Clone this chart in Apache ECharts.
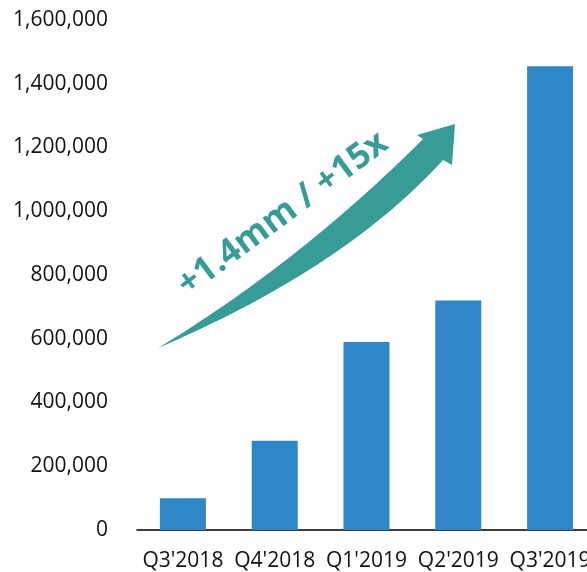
<!DOCTYPE html>
<html><head><meta charset="utf-8">
<script src="https://cdn.jsdelivr.net/npm/echarts@6/dist/echarts.min.js"></script>
<style>html,body{margin:0;padding:0;background:#fff;overflow:hidden}#c{width:600px;height:572px}</style>
</head><body><div id="c"></div>
<script>
const categories = ["Q3'2018", "Q4'2018", "Q1'2019", "Q2'2019", "Q3'2019"];
const values = [100000, 280000, 590000, 720000, 1455000];
const yTicks = [0, 200000, 400000, 600000, 800000, 1000000, 1200000, 1400000, 1600000];
const annotation = "+1.4mm / +15x";

function quad(p0, c, p1, n) {
  const pts = [];
  for (let i = 0; i <= n; i++) {
    const t = i / n, u = 1 - t;
    pts.push([u*u*p0[0] + 2*u*t*c[0] + t*t*p1[0], u*u*p0[1] + 2*u*t*c[1] + t*t*p1[1]]);
  }
  return pts;
}
const tail = [158, 348];
const upper = quad(tail, [300, 262], [423, 139], 40);
const lower = quad([443, 160], [345, 268], tail, 40);
const arrowPts = upper.concat([[417, 135], [455, 124], [452, 165]], lower);

const chart = echarts.init(document.getElementById('c'));
const fmt = v => v.toLocaleString('en-US');
chart.setOption({
  animation: false,
  grid: { left: 137, top: 20, bottom: 41, width: 459 },
  xAxis: {
    type: 'category', data: categories,
    axisLine: { lineStyle: { color: '#000', width: 1.5 } },
    axisTick: { show: false },
    axisLabel: { color: '#111', fontFamily: 'Open Sans', fontSize: 21, margin: 21, interval: 0, hideOverlap: false }
  },
  yAxis: {
    type: 'value', min: yTicks[0], max: yTicks[yTicks.length - 1], interval: 200000,
    axisLine: { show: false }, axisTick: { show: false }, splitLine: { show: false },
    axisLabel: { color: '#111', fontFamily: 'Open Sans', fontSize: 21, margin: 29, formatter: fmt }
  },
  series: [{
    type: 'bar', data: values, barWidth: 46,
    itemStyle: { color: '#2F87C8' }
  }],
  graphic: [
    { type: 'polygon', shape: { points: arrowPts }, style: { fill: '#379C97' } },
    {
      type: 'text', x: 283, y: 214, rotation: 36.5 * Math.PI / 180,
      style: { text: annotation, fill: '#379C97', font: 'bold 35px "Open Sans"', align: 'center', verticalAlign: 'middle' }
    }
  ]
});
</script></body></html>
